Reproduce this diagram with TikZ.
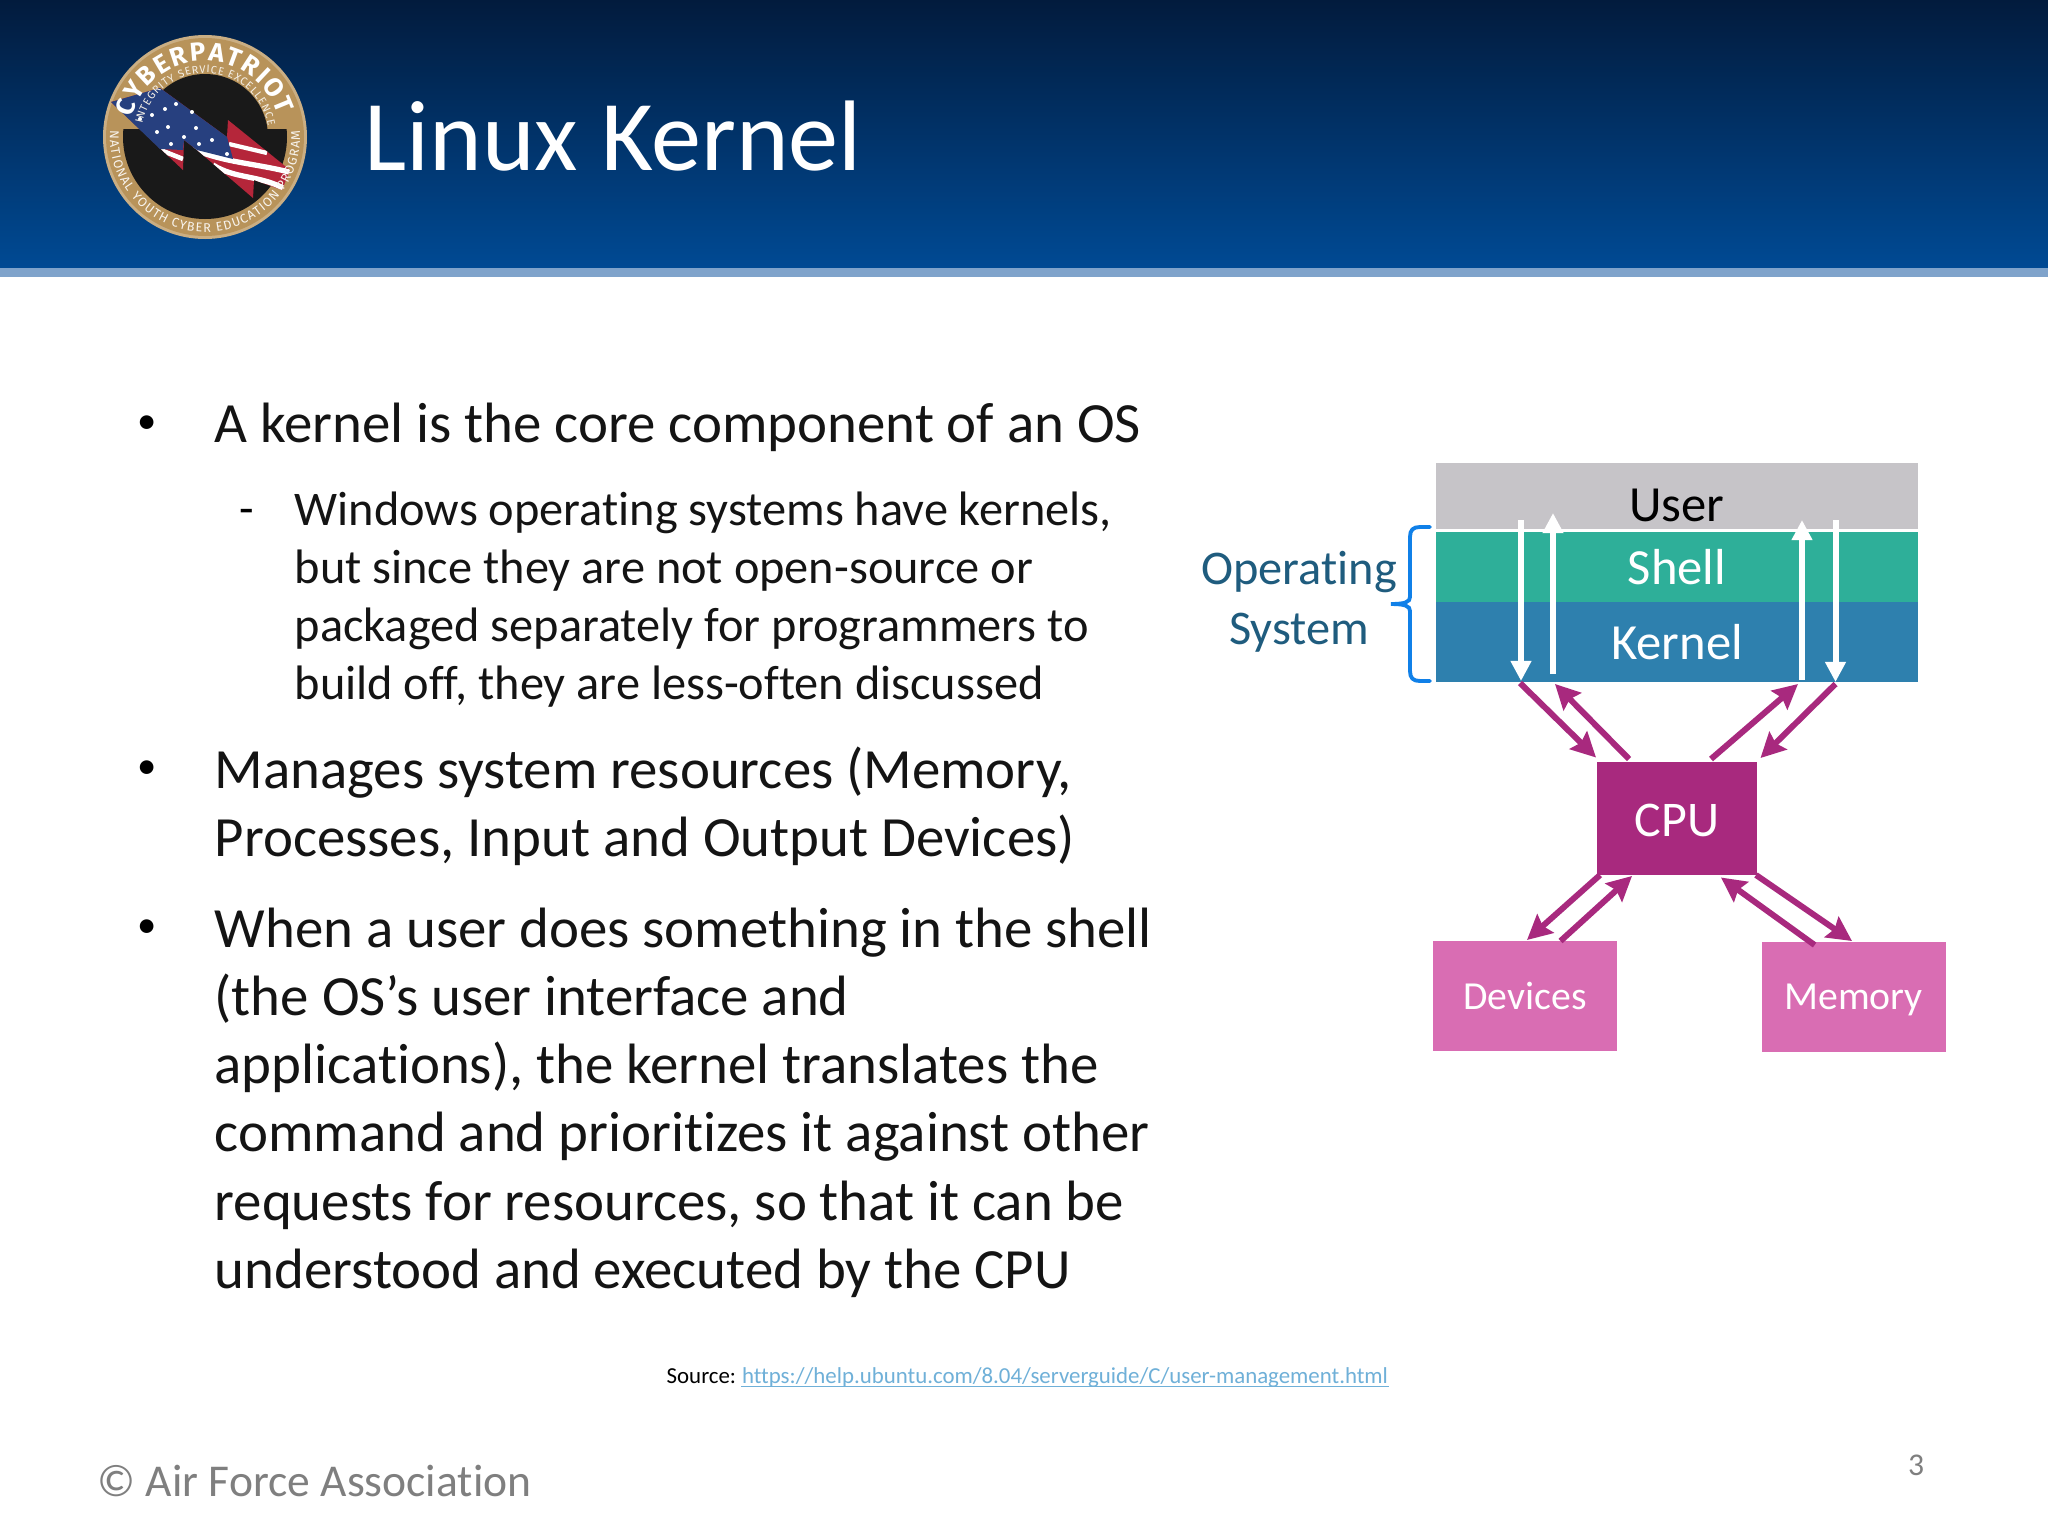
\documentclass[tikz,border=0pt]{standalone}
\usepackage{fontspec}
\setmainfont{Carlito}[Ligatures={NoCommon}]
\newfontfamily\badgefont{Fira Sans}
\usetikzlibrary{arrows.meta,decorations.text}
\definecolor{hdrtop}{HTML}{021B3D}
\definecolor{hdrmid}{HTML}{003A78}
\definecolor{hdrbot}{HTML}{004A94}
\definecolor{hdrstrip}{HTML}{7FA3CB}
\definecolor{usergrey}{HTML}{C6C4C8}
\definecolor{shellgreen}{HTML}{2EAF99}
\definecolor{kernelblue}{HTML}{2E80AE}
\definecolor{cpupurple}{HTML}{A8297E}
\definecolor{devpink}{HTML}{D96DB3}
\definecolor{ostext}{HTML}{1F5C7E}
\definecolor{osbrace}{HTML}{1080E8}
\definecolor{linkblue}{HTML}{6FB0D8}
\definecolor{footgrey}{HTML}{7F7F7F}
\definecolor{badgegold}{HTML}{B8935A}
\definecolor{badgeblue}{HTML}{27407F}
\definecolor{badgered}{HTML}{B5263A}
\tikzset{
  layerbox/.style={inner sep=0pt,outer sep=0pt,text=white,font=\fontsize{14.4}{16}\selectfont,minimum width=482*0.01cm},
  cpubox/.style={fill=cpupurple,inner sep=0pt,outer sep=0pt,text=white,text height=10pt,font=\fontsize{14.2}{16}\selectfont,minimum width=160*0.01cm,minimum height=113*0.01cm},
  partbox/.style={fill=devpink,inner sep=0pt,outer sep=0pt,text=white,text depth=0pt,font=\fontsize{11.3}{14}\selectfont,minimum width=184*0.01cm,minimum height=110*0.01cm},
  whitearrow/.style={white,line width=1.7pt,-{Triangle[length=5.7pt,width=5.6pt]}},
  cpuarrow/.style={cpupurple,line width=1.7pt,-{Stealth[length=7pt,width=7pt,inset=1pt]}},
  bodytext/.style={anchor=base west,inner sep=0pt,text=black!92,align=left,font=\fontsize{16.17}{19.4}\selectfont},
  subtext/.style={anchor=base west,inner sep=0pt,text=black!92,align=left,font=\fontsize{13.75}{16.5}\selectfont},
}
\begin{document}
\begin{tikzpicture}[x=0.01cm,y=-0.01cm]
\useasboundingbox (0,0) rectangle (2048,1536);
\fill[white] (0,0) rectangle (2048,1536);
% header
\shade[top color=hdrtop,middle color=hdrmid,bottom color=hdrbot] (0,0) rectangle (2048,268);
\fill[hdrstrip] (0,268) rectangle (2048,277);
\node[anchor=base west,inner sep=0pt,text=white,font=\fontsize{28.5}{32}\selectfont] (title) at (364,170) {Linux Kernel};
% badge
\begin{scope}[shift={(205,137)},x=0.01cm,y=0.01cm]
\fill[badgegold!75!white] (0,0) circle (102);
\fill[badgegold] (0,0) circle (99);
\begin{scope}
\clip (-90,-90) rectangle (90,8);
\fill[black!90] (0,0) circle (82);
\end{scope}
\begin{scope}
\clip (-90,90) rectangle (90,7);
\fill[black!90] (0,0) circle (63);
\end{scope}
\fill[badgered] (-94,35) -- (-45,49) -- (22,0) -- (23,17) -- (85,-33) -- (77,-53) -- (49,-43) -- (48,-61) -- (-8,-13) -- (-21,-3) -- (-22,-33) -- cycle;
\begin{scope}
\clip (-94,35) -- (-45,49) -- (22,0) -- (23,17) -- (85,-33) -- (77,-53) -- (49,-43) -- (48,-61) -- (-8,-13) -- (-21,-3) -- (-22,-33) -- cycle;
\draw[white,line width=1.2pt] (24,-7) -- (62,-16);
\draw[white,line width=1.5pt] (-12,-12) .. controls (20,-26) and (50,-26) .. (88,-36);
\draw[white,line width=1.5pt] (8,-28) .. controls (30,-42) and (55,-38) .. (80,-52);
\draw[white,line width=1.3pt] (-47,-12) -- (-22,-22);
\end{scope}
\fill[badgeblue] (-94,35) -- (-45,49) -- (22,0) -- (28,-22) -- (-8,-13) -- (-21,-3) -- (-22,-13) -- (-45,-12) -- cycle;
\foreach \sx/\sy in {-40/28,-29/33,-53/22,-13/25,-37/10,-9/9,-48/5,-21/0,-34/-7,-6/-7,7/-3,22/-17,-65/18}
\fill[white] (\sx,\sy) circle (2);
\path[decorate,decoration={text along path,text align={fit to path},text color=white,
  text={|\badgefont\bfseries\fontsize{7.4}{8}\selectfont|CYBERPATRIOT}}]
  (165:76) arc[start angle=165,end angle=17,radius=76];
\path[decorate,decoration={text along path,text align={fit to path},text color=white!85!badgegold,
  text={|\badgefont\fontsize{3.1}{4}\selectfont|INTEGRITY SERVICE EXCELLENCE}}]
  (168:64) arc[start angle=168,end angle=10,radius=64];
\path[decorate,decoration={text along path,text align={fit to path},text color=white!90!badgegold,
  text={|\badgefont\fontsize{3.6}{4}\selectfont|NATIONAL YOUTH CYBER EDUCATION PROGRAM}}]
  (176:95) arc[start angle=176,end angle=364,radius=95];
\end{scope}
% bullets
\foreach \y/\nm in {425/ba,770/bb,929/bc}
\node[inner sep=0pt,font=\fontsize{11}{13}\selectfont] (\nm) at (147,\y) {•};
\node[inner sep=0pt,font=\fontsize{13.5}{16}\selectfont] (dash) at (247,517) {-};
\node[bodytext] (parta) at (214,442) {A kernel is the core component of an OS};
\node[subtext,anchor=north west] (partb) at (294,491) {Windows operating systems have kernels,\\but since they are not open-source or\\packaged separately for programmers to\\build off, they are less-often discussed};
\node[bodytext,anchor=north west] (partc) at (214,746) {Manages system resources (Memory,\\Processes, Input and Output Devices)};
\node[bodytext,anchor=north west] (partd) at (214,907) {When a user does something in the shell\\(the OS’s user interface and\\applications), the kernel translates the\\command and prioritizes it against other\\requests for resources, so that it can be\\understood and executed by the CPU};
% footer
\node[anchor=base west,inner sep=0pt,font=\fontsize{6.5}{7}\selectfont] (source) at (666,1383) {Source:};
\node[anchor=base west,inner sep=0pt,text=linkblue,font=\fontsize{6.5}{7}\selectfont] (link) at ([xshift=1.3pt]source.base east) {https://help.ubuntu.com/8.04/serverguide/C/user-management.html};
\draw[linkblue,line width=0.35pt] ([yshift=-1pt]link.base west) -- ([yshift=-1pt]link.base east);
\node[anchor=base west,inner sep=0pt,text=footgrey,font=\fontsize{12.95}{14}\selectfont] (assoc) at (97,1496) {© Air Force Association};
\node[inner sep=0pt,text=footgrey,font=\fontsize{9}{11}\selectfont] (pagenum) at (1916,1465) {3};
% layers
\node[layerbox,fill=usergrey,minimum height=66*0.01cm] (user) at (1677,496) {};
\node[inner sep=0pt,text=black,font=\fontsize{14.4}{16}\selectfont] (userlabel) at (1677,505) {User};
\node[layerbox,fill=shellgreen,minimum height=70.5*0.01cm] (shell) at (1677,566.75) {Shell};
\node[layerbox,fill=kernelblue,minimum height=79.6*0.01cm] (kernel) at (1677,641.8) {Kernel};
\node[cpubox] (cpu) at (1677,818.7) {CPU};
\node[partbox] (devices) at (1525,996) {Devices};
\node[partbox] (memory) at (1853.5,996.5) {Memory};
\node[inner sep=0pt,text=ostext,align=center,font=\fontsize{13.75}{17}\selectfont] (oslabel) at (1299,602) {Operating\\System};
\draw[osbrace,line width=1.1pt,line cap=round] (1430,527) -- (1420,527) .. controls (1413,527) and (1410,530) .. (1410,537) -- (1410,597) .. controls (1410,602) and (1405,604) .. (1391,604) .. controls (1405,604) and (1410,606) .. (1410,611) -- (1410,671) .. controls (1410,678) and (1413,681) .. (1420,681) -- (1430,681);
% arrows
\coordinate (sa) at (1521,520); \coordinate (sb) at (1521,681);
\coordinate (sc) at (1553,674); \coordinate (sd) at (1553,513);
\coordinate (se) at (1802,680); \coordinate (sf) at (1802,520);
\coordinate (sg) at (1835.5,520); \coordinate (sh) at (1835.5,682);
\foreach \a/\b in {sa/sb,sc/sd,se/sf,sg/sh}
\draw[whitearrow] (\a) -- (\b);
\coordinate (ka) at (1520,683); \coordinate (ca) at (1596,757.5);
\coordinate (cb) at (1629,759); \coordinate (kb) at (1555,684);
\coordinate (cc) at (1711,759); \coordinate (kc) at (1798,684);
\coordinate (kd) at (1835.5,684); \coordinate (cd) at (1760.5,758);
\coordinate (ce) at (1600,875); \coordinate (da) at (1527,940);
\coordinate (db) at (1560.5,941); \coordinate (cf) at (1632,876);
\coordinate (ma) at (1814.6,945); \coordinate (cg) at (1721,877.5);
\coordinate (ch) at (1756,875); \coordinate (mb) at (1852,941);
\foreach \a/\b in {ka/ca,cb/kb,cc/kc,kd/cd,ce/da,db/cf,ma/cg,ch/mb}
\draw[cpuarrow] (\a) -- (\b);
\end{tikzpicture}
\end{document}
